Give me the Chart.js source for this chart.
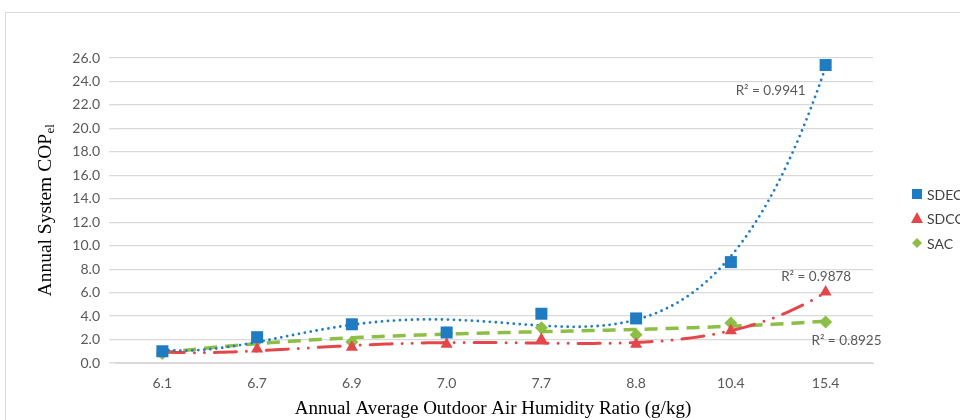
<!DOCTYPE html>
<html>
<head>
<meta charset="utf-8">
<script src="https://cdn.jsdelivr.net/npm/chart.js@4.4.1/dist/chart.umd.min.js"></script>
<style>
  html, body { margin: 0; padding: 0; background: #fff; overflow: hidden; }
  #frame { position: absolute; left: 5px; top: 12px; width: 1000px; height: 500px; border: 1px solid #d9d9d9; box-sizing: border-box; }
  #wrap { position: absolute; left: 0; top: 0; width: 960px; height: 420px; }
</style>
</head>
<body>
<div id="frame"></div>
<div id="wrap"><canvas id="c" width="960" height="420"></canvas></div>
<script>
// Annual average outdoor air humidity ratio (g/kg), one category per site
const humidityLabels = ['6.1', '6.7', '6.9', '7.0', '7.7', '8.8', '10.4', '15.4'];

// Annual system COP_el per system type
const sdecValues = [1.0, 2.2, 3.3, 2.6, 4.2, 3.8, 8.6, 25.4];
const sdccValues = [0.9, 1.2, 1.35, 1.6, 2.0, 1.6, 2.75, 6.05];
const sacValues  = [0.8, 1.9, 1.8, 2.55, 3.0, 2.4, 3.4, 3.5];

// Polynomial trendline order for each system
const sdecOrder = 4;
const sdccOrder = 4;
const sacOrder = 3;

// Coefficients of determination shown beside the trendlines
const r2Texts = ['R\u00b2 = 0.9941', 'R\u00b2 = 0.9878', 'R\u00b2 = 0.8925'];

const yTickValues = [0, 2, 4, 6, 8, 10, 12, 14, 16, 18, 20, 22, 24, 26];

const seriesNames = ['SDEC', 'SDCC', 'SAC'];
const BLUE = '#1f7bc2', RED = '#e4474a', GREEN = '#8dbe45';

// Least-squares polynomial on category positions 1..n (centred for stability)
function polyFit(ys, order) {
  const shift = (ys.length + 1) / 2;
  const xs = ys.map((_, i) => i + 1 - shift);
  const n = order + 1;
  const A = [];
  for (let r = 0; r < n; r++) {
    const row = [];
    for (let c = 0; c < n; c++) row.push(xs.reduce((s, x) => s + Math.pow(x, r + c), 0));
    row.push(xs.reduce((s, x, i) => s + ys[i] * Math.pow(x, r), 0));
    A.push(row);
  }
  for (let k = 0; k < n; k++) {
    let p = k;
    for (let r = k + 1; r < n; r++) if (Math.abs(A[r][k]) > Math.abs(A[p][k])) p = r;
    [A[k], A[p]] = [A[p], A[k]];
    for (let r = 0; r < n; r++) {
      if (r === k) continue;
      const f = A[r][k] / A[k][k];
      for (let c = k; c <= n; c++) A[r][c] -= f * A[k][c];
    }
  }
  const coef = A.map((row, i) => row[n] / row[i]);
  return x => coef.reduce((s, a, i) => s + a * Math.pow(x - shift, i), 0);
}

function trendPoints(ys, order) {
  const f = polyFit(ys, order);
  const pts = [];
  for (let x = 1; x <= ys.length + 1e-9; x += 0.05) pts.push({ x, y: f(x) });
  return pts;
}

const toXY = ys => ys.map((v, i) => ({ x: i + 1, y: v }));

const overlay = {
  id: 'overlay',
  afterDraw(chart) {
    const { ctx, chartArea, scales } = chart;
    ctx.save();
    // axis titles
    ctx.fillStyle = '#000';
    ctx.font = '19px "Liberation Serif"';
    ctx.textAlign = 'center';
    ctx.textBaseline = 'middle';
    ctx.fillText('Annual Average Outdoor Air Humidity Ratio (g/kg)', (chartArea.left + chartArea.right) / 2 - 1, 409);

    ctx.save();
    ctx.translate(46, (chartArea.top + chartArea.bottom) / 2);
    ctx.rotate(-Math.PI / 2);
    const main = 'Annual System COP', sub = 'el';
    ctx.font = '19.5px "Liberation Serif"';
    const wMain = ctx.measureText(main).width;
    ctx.font = '13px "Liberation Serif"';
    const wSub = ctx.measureText(sub).width;
    const start = -(wMain + wSub) / 2;
    ctx.textAlign = 'left';
    ctx.font = '19.5px "Liberation Serif"';
    ctx.fillText(main, start, 0);
    ctx.font = '13px "Liberation Serif"';
    ctx.fillText(sub, start + wMain + 0.5, 5);
    ctx.restore();

    // trendline R² annotations
    ctx.font = '13.5px Lato';
    ctx.fillStyle = '#595959';
    ctx.textAlign = 'center';
    ctx.fillText(r2Texts[0], scales.x.getPixelForValue(7.42), scales.y.getPixelForValue(23.2));
    ctx.fillText(r2Texts[1], scales.x.getPixelForValue(7.9), scales.y.getPixelForValue(7.4));
    ctx.fillText(r2Texts[2], scales.x.getPixelForValue(8.22), scales.y.getPixelForValue(1.9));

    // legend
    const lx = 917, ly = [194, 218, 243];
    ctx.textAlign = 'left';
    ctx.fillStyle = BLUE;
    ctx.fillRect(lx - 5, ly[0] - 5, 10, 10);
    ctx.fillStyle = RED;
    ctx.beginPath();
    ctx.moveTo(lx, ly[1] - 6); ctx.lineTo(lx + 6, ly[1] + 5); ctx.lineTo(lx - 6, ly[1] + 5); ctx.closePath(); ctx.fill();
    ctx.fillStyle = GREEN;
    ctx.beginPath();
    ctx.moveTo(lx, ly[2] - 5); ctx.lineTo(lx + 5, ly[2]); ctx.lineTo(lx, ly[2] + 5); ctx.lineTo(lx - 5, ly[2]); ctx.closePath(); ctx.fill();
    ctx.font = '14px Lato';
    ctx.fillStyle = '#404040';
    seriesNames.forEach((n, i) => ctx.fillText(n, lx + 10, ly[i] + 1));
    ctx.restore();
  }
};

new Chart(document.getElementById('c'), {
  type: 'scatter',
  data: {
    datasets: [
      { label: 'SDEC', data: toXY(sdecValues), pointStyle: 'rect', pointRadius: 8.5, backgroundColor: BLUE, borderColor: BLUE, borderWidth: 0, showLine: false, order: 1 },
      { label: 'SDCC', data: toXY(sdccValues), pointStyle: 'triangle', pointRadius: 7, backgroundColor: RED, borderColor: RED, borderWidth: 0, showLine: false, order: 1 },
      { label: 'SAC', data: toXY(sacValues), pointStyle: 'rectRot', pointRadius: 6.5, backgroundColor: GREEN, borderColor: GREEN, borderWidth: 0, showLine: false, order: 1 },
      { label: 'SDEC fit', data: trendPoints(sdecValues, sdecOrder), showLine: true, pointRadius: 0, borderColor: BLUE, borderWidth: 2.8, borderDash: [0, 6], borderCapStyle: 'round', tension: 0, order: 2 },
      { label: 'SDCC fit', data: trendPoints(sdccValues, sdccOrder), showLine: true, pointRadius: 0, borderColor: RED, borderWidth: 3, borderDash: [22, 10, 0, 10, 0, 10], borderCapStyle: 'round', tension: 0, order: 2 },
      { label: 'SAC fit', data: trendPoints(sacValues, sacOrder), showLine: true, pointRadius: 0, borderColor: GREEN, borderWidth: 3.5, borderDash: [13, 8], borderCapStyle: 'butt', tension: 0, order: 2 }
    ]
  },
  options: {
    responsive: false,
    animation: false,
    layout: { padding: { left: 0, right: 87, top: 58, bottom: 0 } },
    plugins: { legend: { display: false }, tooltip: { enabled: false } },
    scales: {
      x: {
        type: 'linear', min: 0.5, max: 8.5,
        afterBuildTicks: s => { s.ticks = humidityLabels.map((_, i) => ({ value: i + 1 })); },
        afterFit: s => { s.height = 57; },
        ticks: { callback: v => humidityLabels[v - 1], color: '#595959', font: { family: 'Lato', size: 14 }, padding: 4, maxRotation: 0 },
        grid: { display: false },
        border: { color: '#d9d9d9', width: 1 }
      },
      y: {
        min: 0, max: 26,
        afterBuildTicks: s => { s.ticks = yTickValues.map(v => ({ value: v })); },
        afterFit: s => { s.width = 115; },
        ticks: { callback: v => v.toFixed(1), color: '#595959', font: { family: 'Lato', size: 14 }, padding: 9 },
        grid: { color: '#d9d9d9', lineWidth: 1.3, tickLength: 6, drawTicks: true },
        border: { display: false }
      }
    }
  },
  plugins: [overlay]
});
</script>
</body>
</html>
